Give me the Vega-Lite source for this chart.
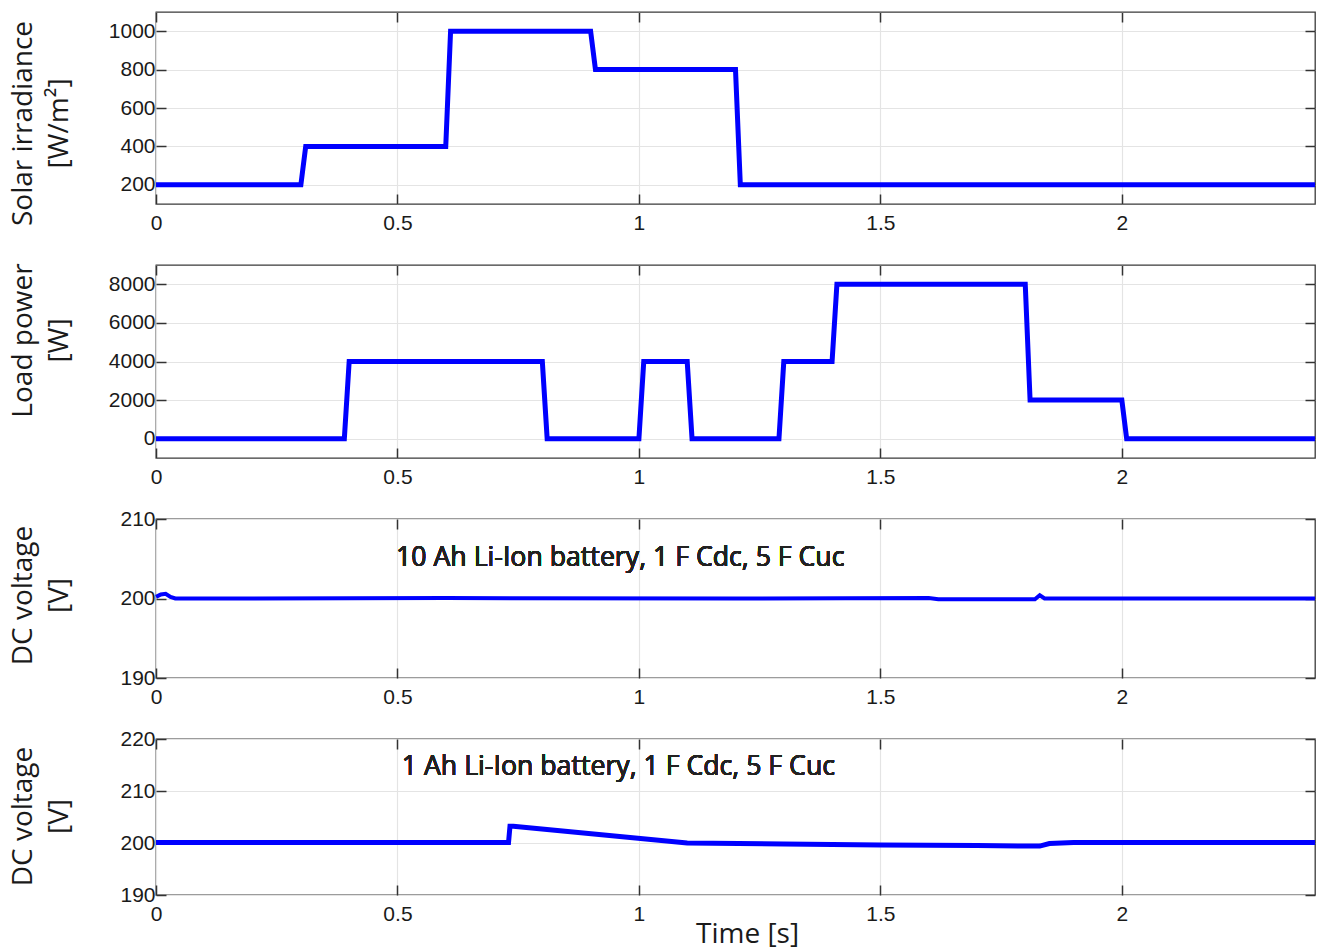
{
  "$schema": "https://vega.github.io/schema/vega-lite/v6.json",
  "padding": {"left": 8, "top": 10, "right": 4, "bottom": 2},
  "background": "white",
  "datasets": {
    "solar": [
      {"t": 0, "v": 200}, {"t": 0.3, "v": 200}, {"t": 0.31, "v": 400}, {"t": 0.6, "v": 400},
      {"t": 0.61, "v": 1000}, {"t": 0.9, "v": 1000}, {"t": 0.91, "v": 800}, {"t": 1.2, "v": 800},
      {"t": 1.21, "v": 200}, {"t": 2.4, "v": 200}
    ],
    "load": [
      {"t": 0, "v": 0}, {"t": 0.39, "v": 0}, {"t": 0.4, "v": 4000}, {"t": 0.8, "v": 4000},
      {"t": 0.81, "v": 0}, {"t": 1.0, "v": 0}, {"t": 1.01, "v": 4000}, {"t": 1.1, "v": 4000},
      {"t": 1.11, "v": 0}, {"t": 1.29, "v": 0}, {"t": 1.3, "v": 4000}, {"t": 1.4, "v": 4000},
      {"t": 1.41, "v": 8000}, {"t": 1.8, "v": 8000}, {"t": 1.81, "v": 2000}, {"t": 2.0, "v": 2000},
      {"t": 2.01, "v": 0}, {"t": 2.4, "v": 0}
    ],
    "dc10": [
      {"t": 0, "v": 200.2}, {"t": 0.01, "v": 200.5}, {"t": 0.02, "v": 200.6}, {"t": 0.03, "v": 200.2},
      {"t": 0.04, "v": 200.0}, {"t": 0.6, "v": 200.05}, {"t": 1.2, "v": 200.0}, {"t": 1.6, "v": 200.05},
      {"t": 1.62, "v": 199.9}, {"t": 1.82, "v": 199.9}, {"t": 1.83, "v": 200.4}, {"t": 1.84, "v": 200.0},
      {"t": 2.4, "v": 200.0}
    ],
    "dc1": [
      {"t": 0, "v": 200.1}, {"t": 0.73, "v": 200.1}, {"t": 0.733, "v": 203.2}, {"t": 0.74, "v": 203.2},
      {"t": 1.1, "v": 200.0}, {"t": 1.3, "v": 199.8}, {"t": 1.5, "v": 199.6}, {"t": 1.7, "v": 199.5},
      {"t": 1.83, "v": 199.4}, {"t": 1.85, "v": 199.9}, {"t": 1.9, "v": 200.1}, {"t": 2.4, "v": 200.1}
    ]
  },
  "vconcat": [
    {
      "width": 1159, "height": 192,
      "data": {"name": "solar"},
      "layer": [
        {
          "mark": {"type": "line", "color": "#0000ff", "strokeWidth": 5},
          "encoding": {
            "x": {"field": "t", "type": "quantitative", "scale": {"domain": [0, 2.4], "nice": false, "zero": false},
                  "axis": {"values": [0, 0.5, 1, 1.5, 2], "format": "~g", "title": null}},
            "y": {"field": "v", "type": "quantitative", "scale": {"domain": [100, 1100], "nice": false, "zero": false},
                  "axis": {"values": [200, 400, 600, 800, 1000], "format": "d", "title": ["Solar irradiance", "[W/m²]"], "titleX": -125, "titleY": 111}}
          }
        },
        {
          "mark": {"type": "line", "opacity": 0},
          "encoding": {
            "x": {"field": "t", "type": "quantitative", "axis": {"orient": "top", "values": [0, 0.5, 1, 1.5, 2], "labels": false, "grid": false, "title": null}},
            "y": {"field": "v", "type": "quantitative", "axis": {"orient": "right", "values": [200, 400, 600, 800, 1000], "labels": false, "grid": false, "title": null}}
          }
        }
      ],
      "resolve": {"axis": {"x": "independent", "y": "independent"}}
    },
    {
      "width": 1159, "height": 193,
      "data": {"name": "load"},
      "layer": [
        {
          "mark": {"type": "line", "color": "#0000ff", "strokeWidth": 5},
          "encoding": {
            "x": {"field": "t", "type": "quantitative", "scale": {"domain": [0, 2.4], "nice": false, "zero": false},
                  "axis": {"values": [0, 0.5, 1, 1.5, 2], "format": "~g", "title": null}},
            "y": {"field": "v", "type": "quantitative", "scale": {"domain": [-1000, 9000], "nice": false, "zero": false},
                  "axis": {"values": [0, 2000, 4000, 6000, 8000], "format": "d", "title": ["Load power", "[W]"], "titleX": -125, "titleY": 75}}
          }
        },
        {
          "mark": {"type": "line", "opacity": 0},
          "encoding": {
            "x": {"field": "t", "type": "quantitative", "axis": {"orient": "top", "values": [0, 0.5, 1, 1.5, 2], "labels": false, "grid": false, "title": null}},
            "y": {"field": "v", "type": "quantitative", "axis": {"orient": "right", "values": [0, 2000, 4000, 6000, 8000], "labels": false, "grid": false, "title": null}}
          }
        }
      ],
      "resolve": {"axis": {"x": "independent", "y": "independent"}}
    },
    {
      "width": 1159, "height": 159,
      "data": {"name": "dc10"},
      "layer": [
        {
          "mark": {"type": "line", "color": "#0000ff", "strokeWidth": 4},
          "encoding": {
            "x": {"field": "t", "type": "quantitative", "scale": {"domain": [0, 2.4], "nice": false, "zero": false},
                  "axis": {"values": [0, 0.5, 1, 1.5, 2], "format": "~g", "title": null}},
            "y": {"field": "v", "type": "quantitative", "scale": {"domain": [190, 210], "nice": false, "zero": false},
                  "axis": {"values": [190, 200, 210], "format": "d", "title": ["DC voltage", "[V]"], "titleX": -125, "titleY": 76}}
          }
        },
        {
          "mark": {"type": "line", "opacity": 0},
          "encoding": {
            "x": {"field": "t", "type": "quantitative", "axis": {"orient": "top", "values": [0, 0.5, 1, 1.5, 2], "labels": false, "grid": false, "title": null}},
            "y": {"field": "v", "type": "quantitative", "axis": {"orient": "right", "values": [190, 200, 210], "labels": false, "grid": false, "title": null}}
          }
        },
        {
          "mark": {"type": "text", "font": "Open Sans", "fontSize": 26.7, "align": "left", "baseline": "alphabetic", "color": "#222222"},
          "encoding": {
            "x": {"datum": 0.497, "type": "quantitative", "axis": null},
            "y": {"datum": 204.1, "type": "quantitative", "axis": null},
            "text": {"value": "10 Ah Li-Ion battery, 1 F Cdc, 5 F Cuc"}
          }
        }
      ],
      "resolve": {"axis": {"x": "independent", "y": "independent"}}
    },
    {
      "width": 1159, "height": 156,
      "data": {"name": "dc1"},
      "layer": [
        {
          "mark": {"type": "line", "color": "#0000ff", "strokeWidth": 5},
          "encoding": {
            "x": {"field": "t", "type": "quantitative", "scale": {"domain": [0, 2.4], "nice": false, "zero": false},
                  "axis": {"values": [0, 0.5, 1, 1.5, 2], "format": "~g", "title": "Time [s]", "titleX": 591, "titleY": 47}},
            "y": {"field": "v", "type": "quantitative", "scale": {"domain": [190, 220], "nice": false, "zero": false},
                  "axis": {"values": [190, 200, 210, 220], "format": "d", "title": ["DC voltage", "[V]"], "titleX": -125, "titleY": 77}}
          }
        },
        {
          "mark": {"type": "line", "opacity": 0},
          "encoding": {
            "x": {"field": "t", "type": "quantitative", "axis": {"orient": "top", "values": [0, 0.5, 1, 1.5, 2], "labels": false, "grid": false, "title": null}},
            "y": {"field": "v", "type": "quantitative", "axis": {"orient": "right", "values": [190, 200, 210, 220], "labels": false, "grid": false, "title": null}}
          }
        },
        {
          "mark": {"type": "text", "font": "Open Sans", "fontSize": 26.7, "align": "left", "baseline": "alphabetic", "color": "#222222"},
          "encoding": {
            "x": {"datum": 0.509, "type": "quantitative", "axis": null},
            "y": {"datum": 213.1, "type": "quantitative", "axis": null},
            "text": {"value": "1 Ah Li-Ion battery, 1 F Cdc, 5 F Cuc"}
          }
        }
      ],
      "resolve": {"axis": {"x": "independent", "y": "independent"}}
    }
  ],
  "spacing": 61,
  "bounds": "flush",
  "config": {
    "view": {"stroke": "#3a3a3a", "strokeWidth": 1.3},
    "axisX": {"labelPadding": 18, "labelFlush": false},
    "axisY": {"labelPadding": 11},
    "axis": {
      "labelFont": "Liberation Sans", "labelFontSize": 21, "labelColor": "#1a1a1a",
      "titleFont": "Open Sans", "titleFontSize": 28, "titleFontWeight": "normal", "titleColor": "#1a1a1a",
      "titleBaseline": "alphabetic", "titleLineHeight": 36,
      "gridColor": "#e4e4e4", "gridWidth": 1.2, "domain": false,
      "tickColor": "#333333", "tickSize": -10, "tickWidth": 1.5
    }
  }
}
